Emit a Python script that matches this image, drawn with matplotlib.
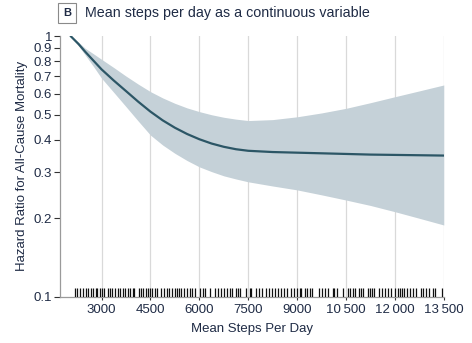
import matplotlib
matplotlib.use("Agg")
import matplotlib.pyplot as plt
import matplotlib.transforms as mtransforms

# ---- data ----
steps = [2050, 2300, 2500, 2750, 3000, 3375, 3750, 4125, 4500, 4875, 5250, 5625, 6000,
         6375, 6750, 7125, 7500, 8250, 9000, 9750, 10500, 11250, 12000, 12750, 13500]
hr = [1.0, 0.93, 0.87, 0.805, 0.745, 0.675, 0.615, 0.56, 0.513, 0.475, 0.445, 0.421, 0.402,
      0.387, 0.376, 0.368, 0.363, 0.359, 0.357, 0.355, 0.353, 0.351, 0.350, 0.349, 0.348]
hr_lower = [1.0, 0.915, 0.845, 0.765, 0.689, 0.608, 0.536, 0.472, 0.417, 0.382, 0.355, 0.333, 0.315,
            0.302, 0.291, 0.283, 0.276, 0.266, 0.257, 0.246, 0.235, 0.224, 0.212, 0.200, 0.1885]
hr_upper = [1.0, 0.945, 0.897, 0.855, 0.814, 0.757, 0.702, 0.654, 0.612, 0.579, 0.552, 0.530, 0.513,
            0.499, 0.488, 0.480, 0.474, 0.478, 0.490, 0.507, 0.528, 0.555, 0.585, 0.616, 0.649]

rug_steps = [
    2187, 2258, 2340, 2423, 2515, 2586, 2678, 2748, 2822, 2862, 2945, 3025, 3086,
    3190, 3261, 3331, 3414, 3506, 3577, 3650, 3712, 3804, 3883, 3957, 4006, 4141,
    4221, 4282, 4356, 4426, 4488, 4558, 4641, 4693, 4816, 4908, 5000, 5080, 5172,
    5245, 5307, 5386, 5448, 5531, 5614,
    5706, 5776, 5859, 6031, 6104, 6166, 6337, 6491, 6574, 6656, 6748, 6850, 6942,
    7012, 7117, 7187, 7258, 7442, 7555, 7595, 7730, 7831, 7933, 8037, 8129, 8221,
    8331, 8414, 8515, 8589, 8681, 8822, 8914, 8997, 9080, 9129, 9233, 9304, 9387, 9457,
    9663, 9755, 9856, 9939, 10092, 10141, 10215, 10399, 10571, 10623, 10706, 10776,
    10908, 10960, 11012, 11166, 11236, 11288, 11368, 11521, 11604, 11696, 11779,
    11880, 12003, 12086, 12156, 12208, 12288, 12362, 12463, 12564, 12647, 12800,
    12871, 12954, 13055, 13159, 13230, 13445,
]

x_ticks = [3000, 4500, 6000, 7500, 9000, 10500, 12000, 13500]
x_tick_labels = ["3000", "4500", "6000", "7500", "9000", "10\u2009500", "12\u2009000", "13\u2009500"]
y_ticks = [0.1, 0.2, 0.3, 0.4, 0.5, 0.6, 0.7, 0.8, 0.9, 1]
y_tick_labels = ["0.1", "0.2", "0.3", "0.4", "0.5", "0.6", "0.7", "0.8", "0.9", "1"]

title = "Mean steps per day as a continuous variable"
panel = "B"
x_label = "Mean Steps Per Day"
y_label = "Hazard Ratio for All-Cause Mortality"

# ---- style ----
plt.rcParams['font.family'] = ['Liberation Sans', 'DejaVu Sans']
text_color = "#1f2b45"
line_color = "#2c5666"
band_color = "#c5d1d8"
grid_color = "#d9d9d9"

fig = plt.figure(figsize=(4.72, 3.43), dpi=100)
ax = fig.add_axes([0.1271, 0.1347, 0.8131, 0.7603])

ax.set_yscale("log")
ax.set_xlim(1725, 13500)
ax.set_ylim(0.1, 1.0)

ax.fill_between(steps, hr_lower, hr_upper, color=band_color, linewidth=0, zorder=2)
ax.plot(steps, hr, color=line_color, linewidth=1.6, zorder=3,
        solid_capstyle="round", solid_joinstyle="round")

trans = mtransforms.blended_transform_factory(ax.transData, ax.transAxes)
ax.vlines(rug_steps, 0.0, 0.032, transform=trans, color="#111111", linewidth=0.9, zorder=4)

ax.set_xticks(x_ticks)
ax.set_xticklabels(x_tick_labels)
ax.set_yticks(y_ticks)
ax.set_yticklabels(y_tick_labels)
ax.yaxis.set_minor_locator(matplotlib.ticker.NullLocator())
ax.xaxis.grid(True, color=grid_color, linewidth=0.9, zorder=0)
ax.set_axisbelow(True)

ax.tick_params(axis="y", direction="out", length=4, width=0.8, color="#333333",
               labelsize=9.5, labelcolor=text_color, pad=1.5)
ax.tick_params(axis="x", direction="out", length=2.5, width=0.8, color="#333333",
               labelsize=9.5, labelcolor=text_color, pad=3)

for s in ["top", "right"]:
    ax.spines[s].set_visible(False)
ax.spines["left"].set_color("#9a9a9a")
ax.spines["bottom"].set_color("#9a9a9a")
ax.spines["left"].set_linewidth(0.9)
ax.spines["bottom"].set_linewidth(0.9)

ax.set_xlabel(x_label, fontsize=9.5, color=text_color, labelpad=5)
ax.set_ylabel(y_label, fontsize=9.5, color=text_color, labelpad=4)

# title with boxed panel letter
fig.text(0.1423, 0.963, panel, fontsize=8, fontweight="bold", color=text_color,
         ha="center", va="center",
         bbox=dict(boxstyle="square,pad=0.45", facecolor="white", edgecolor="#8a8a8a", linewidth=0.8))
fig.text(0.18, 0.963, title, fontsize=10.3, color=text_color, ha="left", va="center")

fig.savefig("out.png", dpi=100)
